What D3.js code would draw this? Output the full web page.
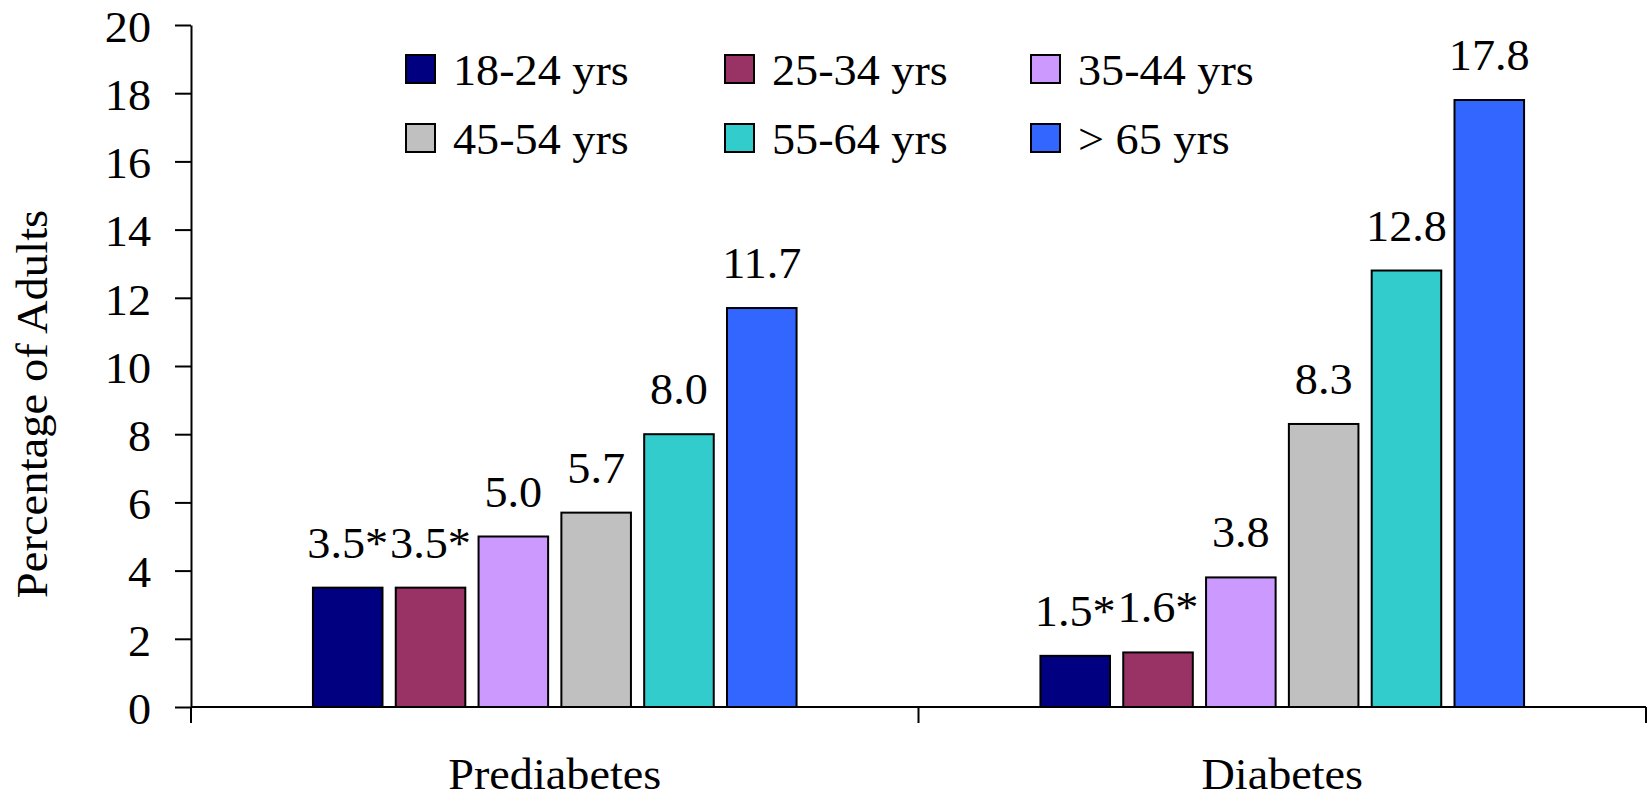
<!DOCTYPE html>
<html>
<head>
<meta charset="utf-8">
<script src="https://cdn.jsdelivr.net/npm/d3@7"></script>
<style>
  html, body { margin: 0; padding: 0; background: #fff; }
  svg { display: block; }
  svg text { font-family: "Liberation Serif", "Times New Roman", serif; fill: #000; }
</style>
</head>
<body>
<svg id="chart" width="1648" height="799"></svg>
<script>
// ---- data ----
const categories = ["Prediabetes", "Diabetes"];
const ageGroups = ["18-24 yrs", "25-34 yrs", "35-44 yrs", "45-54 yrs", "55-64 yrs", "> 65 yrs"];
const prediabetesValues = [3.5, 3.5, 5.0, 5.7, 8.0, 11.7];
const diabetesValues = [1.5, 1.6, 3.8, 8.3, 12.8, 17.8];
const prediabetesLabels = ["3.5*", "3.5*", "5.0", "5.7", "8.0", "11.7"];
const diabetesLabels = ["1.5*", "1.6*", "3.8", "8.3", "12.8", "17.8"];
const yTicks = [0, 2, 4, 6, 8, 10, 12, 14, 16, 18, 20];
const colors = ["#000080", "#993366", "#CC99FF", "#C0C0C0", "#33CCCC", "#3366FF"];

(function () {
const seriesValues = [prediabetesValues, diabetesValues];
const seriesLabels = [prediabetesLabels, diabetesLabels];

const FS = 44;
const SX = 1.05;
const FF = "'Liberation Serif', 'Times New Roman', serif";

const svg = d3.select("#chart");
const mLeft = 191, mRight = 1646, mTop = 25, mBottom = 707;

const y = d3.scaleLinear().domain([0, 20]).range([mBottom, mTop]);
const x0 = d3.scaleBand().domain(categories).range([mLeft, mRight])
  .paddingInner(0.317).paddingOuter(0.1585);
const x1 = d3.scaleBand().domain(ageGroups).range([0, x0.bandwidth()])
  .paddingInner(0.16).paddingOuter(0.08);
const color = d3.scaleOrdinal().domain(ageGroups).range(colors);

// bars
const groups = svg.append("g").selectAll("g")
  .data(categories).join("g")
  .attr("transform", d => `translate(${x0(d)},0)`);

groups.each(function(cat, ci) {
  const g = d3.select(this);
  const rows = ageGroups.map((a, i) => ({ age: a, v: seriesValues[ci][i], label: seriesLabels[ci][i] }));
  g.selectAll("rect").data(rows).join("rect")
    .attr("x", d => x1(d.age))
    .attr("y", d => y(d.v))
    .attr("width", x1.bandwidth())
    .attr("height", d => y(0) - y(d.v))
    .attr("fill", d => color(d.age))
    .attr("stroke", "#000")
    .attr("stroke-width", 2);
  g.selectAll("g.lbl").data(rows).join("g")
    .attr("class", "lbl")
    .attr("transform", d => `translate(${x1(d.age) + x1.bandwidth() / 2},${y(d.v) - 30}) scale(${SX},1)`)
    .append("text")
    .attr("text-anchor", "middle")
    .style("font-family", FF)
    .style("font-size", FS + "px")
    .text(d => d.label);
});

// y axis
const yAxis = svg.append("g")
  .attr("transform", `translate(${mLeft},0)`)
  .call(d3.axisLeft(y).tickValues(yTicks).tickSize(16).tickSizeOuter(0).tickPadding(24).tickFormat(d3.format("d")));
yAxis.attr("font-family", null).attr("font-size", null);
yAxis.select(".domain").attr("stroke", "#000").attr("stroke-width", 2);
yAxis.selectAll(".tick line").attr("stroke", "#000").attr("stroke-width", 2);
yAxis.selectAll(".tick text")
  .style("font-family", FF)
  .style("font-size", FS + "px")
  .attr("dy", "0.37em")
  .attr("transform", `scale(${SX},1)`)
  .attr("x", -40 / SX);

// x axis (category boundaries as ticks)
const xLine = svg.append("g");
xLine.append("line")
  .attr("x1", mLeft).attr("x2", mRight)
  .attr("y1", y(0)).attr("y2", y(0))
  .attr("stroke", "#000").attr("stroke-width", 2);
const boundaries = [mLeft, (x0(categories[0]) + x0.bandwidth() + x0(categories[1])) / 2, mRight];
xLine.selectAll("line.b").data(boundaries).join("line")
  .attr("class", "b")
  .attr("x1", d => d).attr("x2", d => d)
  .attr("y1", y(0)).attr("y2", y(0) + 16)
  .attr("stroke", "#000").attr("stroke-width", 2);
xLine.selectAll("g.cat").data(categories).join("g")
  .attr("class", "cat")
  .attr("transform", d => `translate(${x0(d) + x0.bandwidth() / 2},789) scale(${SX},1)`)
  .append("text")
  .attr("text-anchor", "middle")
  .style("font-family", FF)
  .style("font-size", FS + "px")
  .text(d => d);

// y title
svg.append("text")
  .attr("transform", `translate(47,404) rotate(-90) scale(1.06,1)`)
  .attr("text-anchor", "middle")
  .style("font-family", FF)
  .style("font-size", FS + "px")
  .text("Percentage of Adults");

// legend
const legCols = [406, 725, 1031];
const legRows = [55, 124];
const legend = svg.append("g").selectAll("g")
  .data(ageGroups).join("g")
  .attr("transform", (d, i) => `translate(${legCols[i % 3]},${legRows[Math.floor(i / 3)]})`);
legend.append("rect")
  .attr("width", 29).attr("height", 28)
  .attr("fill", d => color(d))
  .attr("stroke", "#000").attr("stroke-width", 2);
legend.append("g")
  .attr("transform", `translate(47,30) scale(${SX},1)`)
  .append("text")
  .style("font-family", FF)
  .style("font-size", FS + "px")
  .text(d => d);
})();
</script>
</body>
</html>
